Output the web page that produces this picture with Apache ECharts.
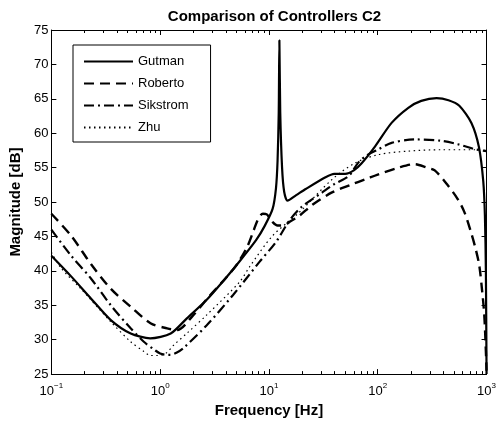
<!DOCTYPE html>
<html>
<head>
<meta charset="utf-8">
<script src="https://cdn.jsdelivr.net/npm/echarts@6/dist/echarts.min.js"></script>
<style>html,body{margin:0;padding:0;background:#fff;}#c{width:499px;height:423px;}</style>
</head>
<body>
<div id="c"></div>
<script>
// Frequencies in Hz, magnitudes in dB
var gutmanF  = [0.1, 0.152, 0.231, 0.352, 0.536, 0.81, 1.25, 1.76, 2.68, 3.79, 5.38, 7.64, 9.12, 10.8, 11.6, 12.0, 12.3, 12.47, 12.7, 13.2, 13.8, 14.8, 17.8, 21.8, 33.1, 39.8, 50.1, 60.3, 70.8, 94.6, 134, 191, 251, 347, 447, 562, 726, 851, 933, 966, 986, 1000];
var gutmanDb = [42.2, 39.2, 36.0, 32.85, 30.9, 30.2, 30.9, 33.1, 35.8, 38.5, 41.4, 44.5, 46.5, 49.0, 52.0, 56.0, 63.0, 73.5, 63.0, 55.0, 51.5, 50.2, 51.0, 51.9, 53.6, 54.1, 54.1, 54.6, 55.6, 58.1, 61.5, 63.7, 64.7, 65.1, 64.8, 64.0, 61.5, 58.0, 53.0, 48.0, 40.0, 25.0];

var robertoF  = [0.1, 0.152, 0.231, 0.352, 0.536, 0.815, 1.16, 1.43, 2.0, 2.82, 3.98, 5.01, 6.31, 7.13, 7.94, 8.79, 9.55, 10.8, 12.0, 13.3, 15.8, 19.0, 25.1, 38.0, 56.2, 76.9, 100, 155, 219, 282, 334, 442, 545, 627, 720, 794, 857, 912, 953, 986, 1000];
var robertoDb = [48.3, 45.1, 41.0, 37.4, 34.8, 32.4, 31.65, 31.4, 33.5, 36.3, 38.9, 40.8, 43.5, 45.6, 47.5, 48.3, 48.2, 47.1, 46.6, 46.6, 47.2, 48.0, 49.6, 51.4, 52.5, 53.3, 54.0, 55.0, 55.5, 55.0, 54.6, 52.4, 50.4, 48.5, 45.6, 43.2, 40.8, 37.0, 33.6, 28.3, 25.5];

var sikstromF  = [0.1, 0.152, 0.231, 0.352, 0.536, 0.708, 0.891, 1.0, 1.16, 1.24, 1.41, 1.64, 2.68, 4.68, 8.18, 11.6, 15.4, 20.0, 30.9, 39.8, 54.1, 66.8, 79.4, 100, 134, 219, 384, 545, 773, 1000];
var sikstromDb = [46.0, 42.2, 38.9, 35.0, 31.65, 29.7, 28.5, 28.0, 27.8, 27.8, 28.1, 28.8, 32.1, 36.5, 41.3, 44.2, 47.3, 49.3, 51.4, 52.6, 53.8, 55.8, 56.8, 57.6, 58.6, 59.1, 58.9, 58.4, 57.7, 57.4];

var zhuF  = [0.1, 0.123, 0.187, 0.352, 0.536, 0.708, 0.815, 0.933, 1.12, 1.33, 1.78, 2.68, 5.38, 6.64, 10.8, 19.0, 38.1, 62.4, 102, 191, 384, 773, 1000];
var zhuDb = [42.7, 40.4, 37.4, 32.6, 29.7, 28.3, 27.7, 27.7, 28.0, 29.2, 31.0, 33.6, 38.4, 40.6, 45.1, 48.5, 53.3, 55.7, 56.9, 57.4, 57.6, 57.6, 57.5];

var yTicks = [25, 30, 35, 40, 45, 50, 55, 60, 65, 70, 75];
var xDecades = [0.1, 1, 10, 100, 1000];

function pairs(f, d) { return f.map(function (v, i) { return [v, d[i]]; }); }

var font = '"Liberation Sans", Arial, Helvetica, sans-serif';
var chart = echarts.init(document.getElementById('c'), null, { renderer: 'canvas' });

function expLabel(v) {
  var e = Math.round(Math.log(v) / Math.LN10);
  var s = String(e).replace('-', '\u2212');
  return '{b|10}{s|' + s + '}';
}

var axisLineStyle = { color: '#000', width: 1 };

var option = {
  backgroundColor: '#fff',
  animation: false,
  title: {
    text: 'Comparison of Controllers C2',
    left: 269.5, top: 4, textAlign: 'center',
    textStyle: { fontFamily: font, fontWeight: 'bold', fontSize: 15, color: '#000' }
  },
  grid: { left: 50, right: 10, top: 30, bottom: 47, containLabel: false },
  legend: {
    orient: 'vertical', left: 73, top: 45,
    borderColor: '#000', borderWidth: 1, backgroundColor: '#fff',
    padding: [10, 22, 8, 10],
    itemWidth: 49, itemHeight: 14, itemGap: 9,
    itemStyle: { color: 'rgba(0,0,0,0)', borderWidth: 0, opacity: 0 },
    textStyle: { fontFamily: font, fontSize: 13, color: '#000' },
    data: ['Gutman', 'Roberto', 'Sikstrom', 'Zhu']
  },
  xAxis: [{
    type: 'log', logBase: 10, min: 0.1, max: 1000,
    position: 'bottom',
    name: 'Frequency [Hz]', nameLocation: 'middle', nameGap: 26,
    nameTextStyle: { fontFamily: font, fontWeight: 'bold', fontSize: 15, color: '#000' },
    axisLine: { show: true, onZero: false, lineStyle: axisLineStyle },
    axisTick: { show: true, inside: true, length: 5, lineStyle: axisLineStyle },
    minorTick: { show: false },
    splitLine: { show: false },
    axisLabel: {
      margin: 8, formatter: expLabel, color: '#000',
      rich: {
        b: { fontFamily: font, fontSize: 13, color: '#000', verticalAlign: 'bottom' },
        s: { fontFamily: font, fontSize: 8, color: '#000', verticalAlign: 'bottom', padding: [0, 0, 8, 0] }
      }
    }
  }, {
    type: 'log', logBase: 10, min: 0.1, max: 1000,
    position: 'top',
    axisLine: { show: true, onZero: false, lineStyle: axisLineStyle },
    axisTick: { show: true, inside: true, length: 5, lineStyle: axisLineStyle },
    axisLabel: { show: false }, splitLine: { show: false }
  }],
  yAxis: [{
    type: 'value', min: 25, max: 75, interval: 5,
    position: 'left',
    name: 'Magnitude [dB]', nameLocation: 'middle', nameGap: 24, nameRotate: 90,
    nameTextStyle: { fontFamily: font, fontWeight: 'bold', fontSize: 15, color: '#000' },
    axisLine: { show: true, onZero: false, lineStyle: axisLineStyle },
    axisTick: { show: true, inside: true, length: 5, lineStyle: axisLineStyle },
    splitLine: { show: false },
    axisLabel: { fontFamily: font, fontSize: 13, color: '#000', margin: 3,
      formatter: function (v) { return yTicks.indexOf(v) >= 0 ? String(v) : ''; } }
  }, {
    type: 'value', min: 25, max: 75, interval: 5,
    position: 'right',
    axisLine: { show: true, onZero: false, lineStyle: axisLineStyle },
    axisTick: { show: true, inside: true, length: 5, lineStyle: axisLineStyle },
    axisLabel: { show: false }, splitLine: { show: false }
  }],
  series: [
    { name: 'Gutman', type: 'line', data: pairs(gutmanF, gutmanDb), showSymbol: false, symbol: 'none',
      smooth: 0.25, clip: true,
      lineStyle: { color: '#000', width: 2.2, type: 'solid' }, itemStyle: { color: '#000' } },
    { name: 'Roberto', type: 'line', data: pairs(robertoF, robertoDb), showSymbol: false, symbol: 'none',
      smooth: 0.3, clip: true,
      lineStyle: { color: '#000', width: 2.4, type: [10, 6] }, itemStyle: { color: '#000' } },
    { name: 'Sikstrom', type: 'line', data: pairs(sikstromF, sikstromDb), showSymbol: false, symbol: 'none',
      smooth: 0.3, clip: true,
      lineStyle: { color: '#000', width: 2.2, type: [10, 4, 2, 4] }, itemStyle: { color: '#000' } },
    { name: 'Zhu', type: 'line', data: pairs(zhuF, zhuDb), showSymbol: false, symbol: 'none',
      smooth: 0.3, clip: true,
      lineStyle: { color: '#000', width: 1.2, type: [1.5, 3.5] }, itemStyle: { color: '#000' } }
  ]
};
chart.setOption(option);

// Minor ticks for the log axes (2..9 of each decade), positioned via the axis scale
function addMinorTicks() {
  var els = [];
  var yb = chart.convertToPixel({ yAxisIndex: 0 }, 25);
  var yt = chart.convertToPixel({ yAxisIndex: 0 }, 75);
  for (var d = 0; d < xDecades.length - 1; d++) {
    for (var k = 2; k <= 9; k++) {
      var f = xDecades[d] * k;
      var x = Math.round(chart.convertToPixel({ xAxisIndex: 0 }, f)) + 0.5;
      els.push({ type: 'line', silent: true, shape: { x1: x, y1: yb, x2: x, y2: yb - 3 }, style: { stroke: '#000', lineWidth: 1 } });
      els.push({ type: 'line', silent: true, shape: { x1: x, y1: yt, x2: x, y2: yt + 3 }, style: { stroke: '#000', lineWidth: 1 } });
    }
  }
  chart.setOption({ graphic: els });
}
addMinorTicks();
</script>
</body>
</html>
